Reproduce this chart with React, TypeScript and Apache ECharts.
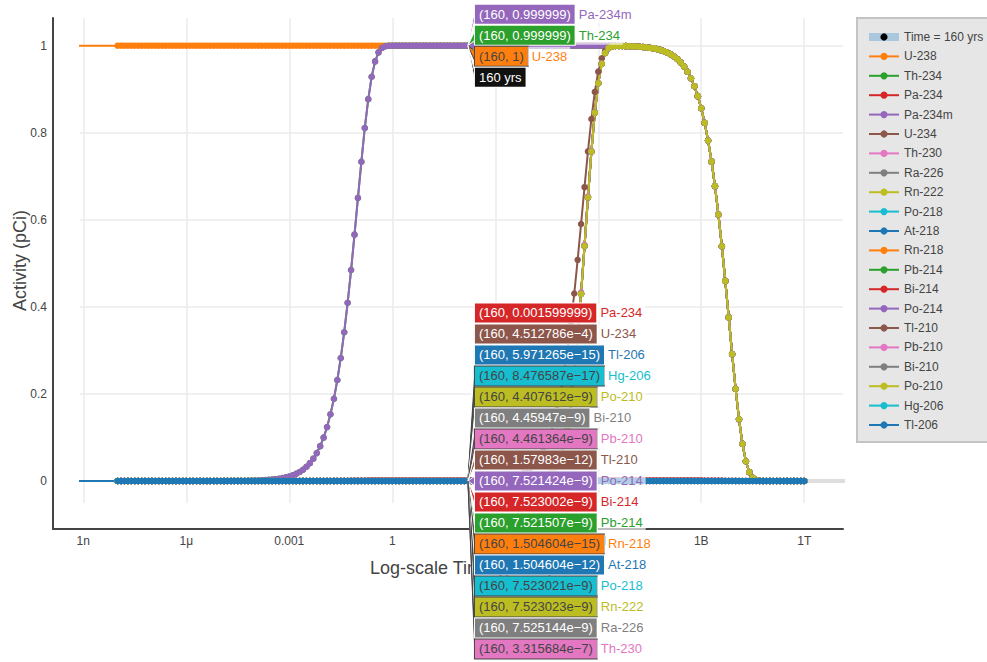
import React, { useEffect, useRef } from 'react';
import * as echarts from 'echarts';

const FONT = "'Liberation Sans', Arial, Helvetica, sans-serif";

// ---------------- data ----------------
// time points in years (0 = start; on the log axis it lies beyond the left edge, as in the original)
const timeYears = [
  0,
  1e-8, 1.26e-8, 1.58e-8, 2e-8, 2.51e-8, 3.16e-8, 3.98e-8, 5.01e-8, 6.31e-8, 7.94e-8,
  1e-7, 1.26e-7, 1.58e-7, 2e-7, 2.51e-7, 3.16e-7, 3.98e-7, 5.01e-7, 6.31e-7, 7.94e-7,
  1e-6, 1.26e-6, 1.58e-6, 2e-6, 2.51e-6, 3.16e-6, 3.98e-6, 5.01e-6, 6.31e-6, 7.94e-6,
  1e-5, 1.26e-5, 1.58e-5, 2e-5, 2.51e-5, 3.16e-5, 3.98e-5, 5.01e-5, 6.31e-5, 7.94e-5,
  1e-4, 1.26e-4, 1.58e-4, 2e-4, 2.51e-4, 3.16e-4, 3.98e-4, 5.01e-4, 6.31e-4, 7.94e-4,
  1e-3, 1.26e-3, 1.58e-3, 2e-3, 2.51e-3, 3.16e-3, 3.98e-3, 5.01e-3, 6.31e-3, 7.94e-3,
  1e-2, 1.26e-2, 1.58e-2, 2e-2, 2.51e-2, 3.16e-2, 3.98e-2, 5.01e-2, 6.31e-2, 7.94e-2,
  1e-1, 1.26e-1, 1.58e-1, 2e-1, 2.51e-1, 3.16e-1, 3.98e-1, 5.01e-1, 6.31e-1, 7.94e-1,
  1e0, 1.26e0, 1.58e0, 2e0, 2.51e0, 3.16e0, 3.98e0, 5.01e0, 6.31e0, 7.94e0,
  1e1, 1.26e1, 1.58e1, 2e1, 2.51e1, 3.16e1, 3.98e1, 5.01e1, 6.31e1, 7.94e1,
  1e2, 1.26e2, 1.58e2, 2e2, 2.51e2, 3.16e2, 3.98e2, 5.01e2, 6.31e2, 7.94e2,
  1e3, 1.26e3, 1.58e3, 2e3, 2.51e3, 3.16e3, 3.98e3, 5.01e3, 6.31e3, 7.94e3,
  1e4, 1.26e4, 1.58e4, 2e4, 2.51e4, 3.16e4, 3.98e4, 5.01e4, 6.31e4, 7.94e4,
  1e5, 1.26e5, 1.58e5, 2e5, 2.51e5, 3.16e5, 3.98e5, 5.01e5, 6.31e5, 7.94e5,
  1e6, 1.26e6, 1.58e6, 2e6, 2.51e6, 3.16e6, 3.98e6, 5.01e6, 6.31e6, 7.94e6,
  1e7, 1.26e7, 1.58e7, 2e7, 2.51e7, 3.16e7, 3.98e7, 5.01e7, 6.31e7, 7.94e7,
  1e8, 1.26e8, 1.58e8, 2e8, 2.51e8, 3.16e8, 3.98e8, 5.01e8, 6.31e8, 7.94e8,
  1e9, 1.26e9, 1.58e9, 2e9, 2.51e9, 3.16e9, 3.98e9, 5.01e9, 6.31e9, 7.94e9,
  1e10, 1.26e10, 1.58e10, 2e10, 2.51e10, 3.16e10, 3.98e10, 5.01e10, 6.31e10, 7.94e10,
  1e11, 1.26e11, 1.58e11, 2e11, 2.51e11, 3.16e11, 3.98e11, 5.01e11, 6.31e11, 7.94e11,
  1e12,
];

const u238Values = [
  1,
  1, 1, 1, 1, 1, 1, 1, 1, 1, 1,
  1, 1, 1, 1, 1, 1, 1, 1, 1, 1,
  1, 1, 1, 1, 1, 1, 1, 1, 1, 1,
  1, 1, 1, 1, 1, 1, 1, 1, 1, 1,
  1, 1, 1, 1, 1, 1, 1, 1, 1, 1,
  1, 1, 1, 1, 1, 1, 1, 1, 1, 1,
  1, 1, 1, 1, 1, 1, 1, 1, 1, 1,
  1, 1, 1, 1, 1, 1, 1, 1, 1, 1,
  1, 1, 1, 1, 1, 1, 1, 1, 1, 1,
  1, 1, 1, 1, 1, 1, 1, 1, 1, 1,
  1, 1, 1, 1, 1, 1, 1, 1, 1, 1,
  1, 1, 1, 1, 1, 1, 1, 1, 1, 1,
  1, 1, 1, 1, 1, 1, 1, 1, 1, 1,
  1, 1, 1, 1, 1, 1, 1, 1, 1, 1,
  0.9998, 0.9998, 0.9998, 0.9997, 0.9996, 0.9995, 0.9994, 0.9992, 0.999, 0.9988,
  0.9984, 0.998, 0.9975, 0.9969, 0.9961, 0.9951, 0.9938, 0.9923, 0.9903, 0.9878,
  0.9846, 0.9807, 0.9757, 0.9695, 0.9618, 0.9521, 0.9401, 0.9252, 0.9068, 0.8841,
  0.8563, 0.8226, 0.782, 0.7338, 0.6773, 0.6123, 0.5392, 0.4596, 0.3758, 0.2916,
  0.212, 0.1419, 0.0856, 0.0453, 0.0203, 0.0074, 0.0021, 0.0004, 0.0001, 0,
  0, 0, 0, 0, 0, 0, 0, 0, 0, 0,
  0,
];

// Th-234 and Pa-234m (equilibrium pair)
const th234Values = [
  0,
  0, 0, 0, 0, 0, 0, 0, 0, 0, 0,
  0, 0, 0, 0, 0, 0, 0, 0, 0, 0,
  0, 0, 0, 0, 0, 0, 0, 0, 0, 0,
  0.0001, 0.0001, 0.0002, 0.0002, 0.0003, 0.0003, 0.0004, 0.0005, 0.0007, 0.0008,
  0.0011, 0.0013, 0.0017, 0.0021, 0.0026, 0.0033, 0.0042, 0.0053, 0.0066, 0.0083,
  0.0105, 0.0131, 0.0165, 0.0207, 0.026, 0.0327, 0.041, 0.0513, 0.0641, 0.0801,
  0.0997, 0.1239, 0.1534, 0.1891, 0.232, 0.2827, 0.3418, 0.4094, 0.4846, 0.5659,
  0.6503, 0.7335, 0.8109, 0.8771, 0.9286, 0.9639, 0.9847, 0.9948, 0.9987, 0.9998,
  1, 1, 1, 1, 1, 1, 1, 1, 1, 1,
  1, 1, 1, 1, 1, 1, 1, 1, 1, 1,
  1, 1, 1, 1, 1, 1, 1, 1, 1, 1,
  1, 1, 1, 1, 1, 1, 1, 1, 1, 1,
  1, 1, 1, 1, 1, 1, 1, 1, 1, 1,
  1, 1, 1, 1, 1, 1, 1, 1, 1, 1,
  0.9998, 0.9998, 0.9998, 0.9997, 0.9996, 0.9995, 0.9994, 0.9992, 0.999, 0.9988,
  0.9984, 0.998, 0.9975, 0.9969, 0.9961, 0.9951, 0.9938, 0.9923, 0.9903, 0.9878,
  0.9846, 0.9807, 0.9757, 0.9695, 0.9618, 0.9521, 0.9401, 0.9252, 0.9068, 0.8841,
  0.8563, 0.8226, 0.782, 0.7338, 0.6773, 0.6123, 0.5392, 0.4596, 0.3758, 0.2916,
  0.212, 0.1419, 0.0856, 0.0453, 0.0203, 0.0074, 0.0021, 0.0004, 0.0001, 0,
  0, 0, 0, 0, 0, 0, 0, 0, 0, 0,
  0,
];

const pa234Values = [
  0,
  0, 0, 0, 0, 0, 0, 0, 0, 0, 0,
  0, 0, 0, 0, 0, 0, 0, 0, 0, 0,
  0, 0, 0, 0, 0, 0, 0, 0, 0, 0,
  0, 0, 0, 0, 0, 0, 0, 0, 0, 0,
  0, 0, 0, 0, 0, 0, 0, 0, 0, 0,
  0, 0, 0, 0, 0, 0, 0, 0, 0, 0,
  0.0002, 0.0002, 0.0002, 0.0003, 0.0004, 0.0005, 0.0005, 0.0007, 0.0008, 0.0009,
  0.001, 0.0012, 0.0013, 0.0014, 0.0015, 0.0015, 0.0016, 0.0016, 0.0016, 0.0016,
  0.0016, 0.0016, 0.0016, 0.0016, 0.0016, 0.0016, 0.0016, 0.0016, 0.0016, 0.0016,
  0.0016, 0.0016, 0.0016, 0.0016, 0.0016, 0.0016, 0.0016, 0.0016, 0.0016, 0.0016,
  0.0016, 0.0016, 0.0016, 0.0016, 0.0016, 0.0016, 0.0016, 0.0016, 0.0016, 0.0016,
  0.0016, 0.0016, 0.0016, 0.0016, 0.0016, 0.0016, 0.0016, 0.0016, 0.0016, 0.0016,
  0.0016, 0.0016, 0.0016, 0.0016, 0.0016, 0.0016, 0.0016, 0.0016, 0.0016, 0.0016,
  0.0016, 0.0016, 0.0016, 0.0016, 0.0016, 0.0016, 0.0016, 0.0016, 0.0016, 0.0016,
  0.0016, 0.0016, 0.0016, 0.0016, 0.0016, 0.0016, 0.0016, 0.0016, 0.0016, 0.0016,
  0.0016, 0.0016, 0.0016, 0.0016, 0.0016, 0.0016, 0.0016, 0.0016, 0.0016, 0.0016,
  0.0016, 0.0016, 0.0016, 0.0016, 0.0015, 0.0015, 0.0015, 0.0015, 0.0015, 0.0014,
  0.0014, 0.0013, 0.0013, 0.0012, 0.0011, 0.001, 0.0009, 0.0007, 0.0006, 0.0005,
  0.0003, 0.0002, 0.0001, 0.0001, 0, 0, 0, 0, 0, 0,
  0, 0, 0, 0, 0, 0, 0, 0, 0, 0,
  0,
];

const u234Values = [
  0,
  0, 0, 0, 0, 0, 0, 0, 0, 0, 0,
  0, 0, 0, 0, 0, 0, 0, 0, 0, 0,
  0, 0, 0, 0, 0, 0, 0, 0, 0, 0,
  0, 0, 0, 0, 0, 0, 0, 0, 0, 0,
  0, 0, 0, 0, 0, 0, 0, 0, 0, 0,
  0, 0, 0, 0, 0, 0, 0, 0, 0, 0,
  0, 0, 0, 0, 0, 0, 0, 0, 0, 0,
  0, 0, 0, 0, 0, 0, 0, 0, 0, 0,
  0, 0, 0, 0, 0, 0, 0, 0, 0, 0,
  0, 0, 0, 0, 0, 0, 0.0001, 0.0001, 0.0002, 0.0002,
  0.0003, 0.0004, 0.0004, 0.0006, 0.0007, 0.0009, 0.0011, 0.0014, 0.0018, 0.0022,
  0.0028, 0.0036, 0.0045, 0.0056, 0.0071, 0.0089, 0.0112, 0.0141, 0.0177, 0.0222,
  0.0278, 0.0349, 0.0438, 0.0548, 0.0685, 0.0854, 0.1063, 0.132, 0.1632, 0.2009,
  0.246, 0.2992, 0.3608, 0.4307, 0.508, 0.5905, 0.675, 0.7571, 0.8316, 0.8939,
  0.9404, 0.9712, 0.9884, 0.9961, 0.9988, 0.9994, 0.9994, 0.9992, 0.999, 0.9988,
  0.9984, 0.998, 0.9975, 0.9969, 0.9961, 0.9951, 0.9938, 0.9923, 0.9903, 0.9878,
  0.9846, 0.9807, 0.9757, 0.9695, 0.9618, 0.9521, 0.9401, 0.9252, 0.9068, 0.8841,
  0.8563, 0.8226, 0.782, 0.7338, 0.6773, 0.6123, 0.5392, 0.4596, 0.3758, 0.2916,
  0.212, 0.1419, 0.0856, 0.0453, 0.0203, 0.0074, 0.0021, 0.0004, 0.0001, 0,
  0, 0, 0, 0, 0, 0, 0, 0, 0, 0,
  0,
];

const th230Values = [
  0,
  0, 0, 0, 0, 0, 0, 0, 0, 0, 0,
  0, 0, 0, 0, 0, 0, 0, 0, 0, 0,
  0, 0, 0, 0, 0, 0, 0, 0, 0, 0,
  0, 0, 0, 0, 0, 0, 0, 0, 0, 0,
  0, 0, 0, 0, 0, 0, 0, 0, 0, 0,
  0, 0, 0, 0, 0, 0, 0, 0, 0, 0,
  0, 0, 0, 0, 0, 0, 0, 0, 0, 0,
  0, 0, 0, 0, 0, 0, 0, 0, 0, 0,
  0, 0, 0, 0, 0, 0, 0, 0, 0, 0,
  0, 0, 0, 0, 0, 0, 0, 0, 0, 0,
  0, 0, 0, 0, 0, 0, 0, 0, 0, 0,
  0, 0, 0, 0.0001, 0.0001, 0.0001, 0.0002, 0.0003, 0.0005, 0.0008,
  0.0012, 0.002, 0.0031, 0.0048, 0.0074, 0.0115, 0.0176, 0.0268, 0.0404, 0.0603,
  0.0885, 0.1278, 0.1807, 0.2492, 0.3339, 0.4333, 0.5424, 0.6539, 0.7583, 0.8471,
  0.9142, 0.9585, 0.9833, 0.9945, 0.9984, 0.9993, 0.9994, 0.9992, 0.999, 0.9988,
  0.9984, 0.998, 0.9975, 0.9969, 0.9961, 0.9951, 0.9938, 0.9923, 0.9903, 0.9878,
  0.9846, 0.9807, 0.9757, 0.9695, 0.9618, 0.9521, 0.9401, 0.9252, 0.9068, 0.8841,
  0.8563, 0.8226, 0.782, 0.7338, 0.6773, 0.6123, 0.5392, 0.4596, 0.3758, 0.2916,
  0.212, 0.1419, 0.0856, 0.0453, 0.0203, 0.0074, 0.0021, 0.0004, 0.0001, 0,
  0, 0, 0, 0, 0, 0, 0, 0, 0, 0,
  0,
];

// Ra-226 and its short-lived / Pb-210 descendants (Rn-222 ... Po-210) follow this curve
const ra226Values = [
  0,
  0, 0, 0, 0, 0, 0, 0, 0, 0, 0,
  0, 0, 0, 0, 0, 0, 0, 0, 0, 0,
  0, 0, 0, 0, 0, 0, 0, 0, 0, 0,
  0, 0, 0, 0, 0, 0, 0, 0, 0, 0,
  0, 0, 0, 0, 0, 0, 0, 0, 0, 0,
  0, 0, 0, 0, 0, 0, 0, 0, 0, 0,
  0, 0, 0, 0, 0, 0, 0, 0, 0, 0,
  0, 0, 0, 0, 0, 0, 0, 0, 0, 0,
  0, 0, 0, 0, 0, 0, 0, 0, 0, 0,
  0, 0, 0, 0, 0, 0, 0, 0, 0, 0,
  0, 0, 0, 0, 0, 0, 0, 0, 0, 0,
  0, 0, 0, 0, 0, 0, 0.0001, 0.0001, 0.0003, 0.0005,
  0.0008, 0.0014, 0.0023, 0.0038, 0.0062, 0.0099, 0.0157, 0.0246, 0.0378, 0.0573,
  0.0852, 0.1242, 0.1769, 0.2453, 0.3302, 0.4299, 0.5396, 0.6517, 0.7568, 0.8461,
  0.9136, 0.9583, 0.9832, 0.9945, 0.9984, 0.9993, 0.9994, 0.9992, 0.999, 0.9988,
  0.9984, 0.998, 0.9975, 0.9969, 0.9961, 0.9951, 0.9938, 0.9923, 0.9903, 0.9878,
  0.9846, 0.9807, 0.9757, 0.9695, 0.9618, 0.9521, 0.9401, 0.9252, 0.9068, 0.8841,
  0.8563, 0.8226, 0.782, 0.7338, 0.6773, 0.6123, 0.5392, 0.4596, 0.3758, 0.2916,
  0.212, 0.1419, 0.0856, 0.0453, 0.0203, 0.0074, 0.0021, 0.0004, 0.0001, 0,
  0, 0, 0, 0, 0, 0, 0, 0, 0, 0,
  0,
];

// minor branches and stable end (At-218, Rn-218, Tl-210, Hg-206, Tl-206): ~0 at this scale
const traceValues = [
  0,
  0, 0, 0, 0, 0, 0, 0, 0, 0, 0,
  0, 0, 0, 0, 0, 0, 0, 0, 0, 0,
  0, 0, 0, 0, 0, 0, 0, 0, 0, 0,
  0, 0, 0, 0, 0, 0, 0, 0, 0, 0,
  0, 0, 0, 0, 0, 0, 0, 0, 0, 0,
  0, 0, 0, 0, 0, 0, 0, 0, 0, 0,
  0, 0, 0, 0, 0, 0, 0, 0, 0, 0,
  0, 0, 0, 0, 0, 0, 0, 0, 0, 0,
  0, 0, 0, 0, 0, 0, 0, 0, 0, 0,
  0, 0, 0, 0, 0, 0, 0, 0, 0, 0,
  0, 0, 0, 0, 0, 0, 0, 0, 0, 0,
  0, 0, 0, 0, 0, 0, 0, 0, 0, 0,
  0, 0, 0, 0, 0, 0, 0, 0, 0, 0,
  0, 0, 0, 0, 0, 0, 0, 0, 0, 0,
  0, 0, 0, 0, 0, 0, 0, 0, 0, 0,
  0, 0, 0, 0, 0, 0, 0, 0, 0, 0,
  0, 0, 0, 0, 0, 0, 0, 0, 0, 0,
  0, 0, 0, 0, 0, 0, 0, 0, 0, 0,
  0, 0, 0, 0, 0, 0, 0, 0, 0, 0,
  0, 0, 0, 0, 0, 0, 0, 0, 0, 0,
  0,
];

const isotopeNames = [
  'U-238', 'Th-234', 'Pa-234', 'Pa-234m', 'U-234', 'Th-230', 'Ra-226', 'Rn-222', 'Po-218', 'At-218',
  'Rn-218', 'Pb-214', 'Bi-214', 'Po-214', 'Tl-210', 'Pb-210', 'Bi-210', 'Po-210', 'Hg-206', 'Tl-206',
];
const isotopeColors = [
  '#ff7f0e', '#2ca02c', '#d62728', '#9467bd', '#8c564b', '#e377c2', '#7f7f7f', '#bcbd22', '#17becf', '#1f77b4',
  '#ff7f0e', '#2ca02c', '#d62728', '#9467bd', '#8c564b', '#e377c2', '#7f7f7f', '#bcbd22', '#17becf', '#1f77b4',
];
const isotopeValues = [
  u238Values, th234Values, pa234Values, th234Values, u234Values, th230Values, ra226Values, ra226Values, ra226Values, traceValues,
  traceValues, ra226Values, ra226Values, ra226Values, traceValues, ra226Values, ra226Values, ra226Values, traceValues, traceValues,
];

const timeSeriesName = 'Time = 160 yrs';
const hoverTime = 160;
const hoverTimeText = '160 yrs';
const timeTrackYears = [160, 1e14];

// hover labels shown at t = 160 yrs
const hoverTopNames = ['Pa-234m', 'Th-234', 'U-238'];
const hoverTopTexts = ['0.999999', '0.999999', '1'];
const hoverBottomNames = [
  'Pa-234', 'U-234', 'Tl-206', 'Hg-206', 'Po-210', 'Bi-210', 'Pb-210', 'Tl-210', 'Po-214',
  'Bi-214', 'Pb-214', 'Rn-218', 'At-218', 'Po-218', 'Rn-222', 'Ra-226', 'Th-230',
];
const hoverBottomTexts = [
  '0.001599999', '4.512786e−4', '5.971265e−15', '8.476587e−17', '4.407612e−9', '4.45947e−9',
  '4.461364e−9', '1.57983e−12', '7.521424e−9', '7.523002e−9', '7.521507e−9', '1.504604e−15',
  '1.504604e−12', '7.523021e−9', '7.523023e−9', '7.525144e−9', '3.315684e−7',
];

const xTickExps = [-9, -6, -3, 0, 3, 6, 9, 12];
const xTickLabels = ['1n', '1μ', '0.001', '1', '1k', '1M', '1B', '1T'];
const yTicks = [0, 0.2, 0.4, 0.6, 0.8, 1];

// ---------------- helpers ----------------
const X_MIN = -9.096;
const X_MAX = 13.129;
const Y_MIN = -0.0505;
const Y_MAX = 1.0636;
const ZERO_TIME_COORD = -12;

const lx = (t: number) => (t > 0 ? Math.log10(t) : ZERO_TIME_COORD);
const parseVal = (s: string) => parseFloat(s.replace('−', '-'));
const colorOf = (name: string) => isotopeColors[isotopeNames.indexOf(name)];
const isLight = (hex: string) => {
  const r = parseInt(hex.slice(1, 3), 16);
  const g = parseInt(hex.slice(3, 5), 16);
  const b = parseInt(hex.slice(5, 7), 16);
  return (r * 299 + g * 587 + b * 114) / 1000 > 128;
};

function buildOption() {
  const series: any[] = [
    {
      name: timeSeriesName,
      type: 'line',
      xAxisIndex: 1,
      yAxisIndex: 1,
      data: timeTrackYears.map((t) => [lx(t), 0]),
      symbol: 'circle',
      symbolSize: 0,
      lineStyle: { color: '#dedede', width: 4 },
      itemStyle: { color: '#000' },
      silent: true,
      z: 2,
    },
  ];
  isotopeNames.forEach((name, i) => {
    const vals = isotopeValues[i];
    series.push({
      name,
      type: 'line',
      xAxisIndex: 1,
      yAxisIndex: 1,
      symbol: 'circle',
      clip: true,
      data: timeYears.map((t, k) => ({ value: [lx(t), vals[k]], symbolSize: t > 0 ? 6.5 : 0 })),
      lineStyle: { color: isotopeColors[i], width: 2 },
      itemStyle: { color: isotopeColors[i] },
      emphasis: { disabled: true },
      silent: true,
      z: 2,
    });
  });

  const axisNameStyle = { color: '#444', fontSize: 18, fontFamily: FONT };

  return {
    animation: false,
    textStyle: { fontFamily: FONT },
    grid: [
      { left: 53, top: 18, width: 790, height: 511, outerBoundsMode: 'none', containLabel: false },
      { left: 80, top: 18, width: 763, height: 485, outerBoundsMode: 'none', containLabel: false },
    ],
    xAxis: [
      {
        gridIndex: 0, type: 'value', min: 0, max: 1,
        axisLine: { show: true, onZero: false, lineStyle: { color: '#444', width: 2 } },
        axisTick: { show: false }, axisLabel: { show: false }, splitLine: { show: false },
      },
      {
        gridIndex: 1, type: 'value', min: X_MIN, max: X_MAX, offset: 26,
        axisLine: { show: false, onZero: false },
        axisTick: { show: false, customValues: xTickExps },
        axisLabel: {
          customValues: xTickExps,
          margin: 6, color: '#444', fontSize: 12, fontFamily: FONT,
          formatter: (v: number) => {
            const i = xTickExps.indexOf(Math.round(v));
            return i >= 0 ? xTickLabels[i] : '';
          },
        },
        splitLine: { show: true, lineStyle: { color: '#ebebeb', width: 1.5 } },
        name: 'Log-scale Time (years)', nameLocation: 'middle', nameGap: 30,
        nameMoveOverlap: false, nameTextStyle: axisNameStyle,
      },
    ],
    yAxis: [
      {
        gridIndex: 0, type: 'value', min: 0, max: 1,
        axisLine: { show: true, onZero: false, lineStyle: { color: '#444', width: 2 } },
        axisTick: { show: false }, axisLabel: { show: false }, splitLine: { show: false },
      },
      {
        gridIndex: 1, type: 'value', min: Y_MIN, max: Y_MAX, offset: 27,
        axisLine: { show: false, onZero: false },
        axisTick: { show: false, customValues: yTicks },
        axisLabel: { customValues: yTicks, margin: 6, color: '#444', fontSize: 12, fontFamily: FONT },
        splitLine: { show: true, lineStyle: { color: '#ebebeb', width: 1.5 } },
        name: 'Activity (pCi)', nameLocation: 'middle', nameGap: 24,
        nameMoveOverlap: false, nameTextStyle: axisNameStyle,
      },
    ],
    legend: {
      orient: 'vertical',
      left: 857,
      top: 18,
      backgroundColor: '#e6e6e6',
      borderColor: '#c4c4c4',
      borderWidth: 2,
      padding: [12, 24, 10, 8],
      itemWidth: 30,
      itemHeight: 9,
      itemGap: 5.4,
      selectedMode: false,
      textStyle: { color: '#444', fontSize: 12, fontFamily: FONT, lineHeight: 14 },
      data: [
        { name: timeSeriesName, itemStyle: { color: '#000' }, lineStyle: { color: '#a9c8de', width: 8 } },
        ...isotopeNames,
      ],
    },
    series,
  };
}

function buildHoverGraphics(chart: any) {
  const SPACING = 21;
  const toPx = (v: number) => chart.convertToPixel({ gridIndex: 1 }, [lx(hoverTime), v]);

  const top = hoverTopNames.map((n, i) => {
    const c = colorOf(n);
    return { name: n, text: `(${hoverTime}, ${hoverTopTexts[i]})`, bg: c, fg: isLight(c) ? '#444' : '#fff', nameColor: c, p: toPx(parseVal(hoverTopTexts[i])) };
  });
  top.push({ name: '', text: hoverTimeText, bg: '#111111', fg: '#fff', nameColor: '#000', p: toPx(1) });
  const bottom = hoverBottomNames.map((n, i) => {
    const c = colorOf(n);
    return { name: n, text: `(${hoverTime}, ${hoverBottomTexts[i]})`, bg: c, fg: isLight(c) ? '#444' : '#fff', nameColor: c, p: toPx(parseVal(hoverBottomTexts[i])) };
  });

  const shapes: any[] = [];
  const texts: any[] = [];
  [top, bottom].forEach((group) => {
    const anchor = group.reduce((s, g) => s + g.p[1], 0) / group.length;
    group.forEach((g, i) => {
      const cy = anchor + (i - (group.length - 1) / 2) * SPACING;
      const px = g.p[0];
      const py = g.p[1];
      const bx = px + 7;
      shapes.push({
        type: 'polygon',
        z: 100,
        silent: true,
        shape: { points: [[px, py], [bx, cy - 5], [bx, cy + 5]] },
        style: { fill: g.bg, stroke: g.fg, lineWidth: 1 },
      });
      const rich: any = {
        b: {
          backgroundColor: g.bg, borderColor: g.fg, borderWidth: 1, padding: [3, 4, 3, 4],
          fill: g.fg, fontSize: 13, fontFamily: FONT, lineHeight: 13,
        },
        n: {
          fill: g.nameColor, fontSize: 13, fontFamily: FONT, lineHeight: 13,
          padding: [3, 3, 3, 4], backgroundColor: 'rgba(255,255,255,0.65)',
        },
      };
      texts.push({
        type: 'text',
        z: 101,
        silent: true,
        x: bx,
        y: cy,
        style: {
          text: g.name ? `{b|${g.text}}{n|${g.name}}` : `{b|${g.text}}`,
          rich,
          fill: g.fg,
          verticalAlign: 'middle',
          align: 'left',
        },
      });
    });
  });
  return [...shapes, ...texts];
}

export default function App() {
  const ref = useRef<HTMLDivElement>(null);
  useEffect(() => {
    const chart = echarts.init(ref.current!, null, { renderer: 'svg' });
    chart.setOption(buildOption() as any);
    chart.setOption({ graphic: buildHoverGraphics(chart) } as any);
    return () => chart.dispose();
  }, []);
  return (
    <div
      ref={ref}
      style={{ position: 'absolute', left: 0, top: 0, width: 987, height: 662, background: '#fff' }}
    />
  );
}
